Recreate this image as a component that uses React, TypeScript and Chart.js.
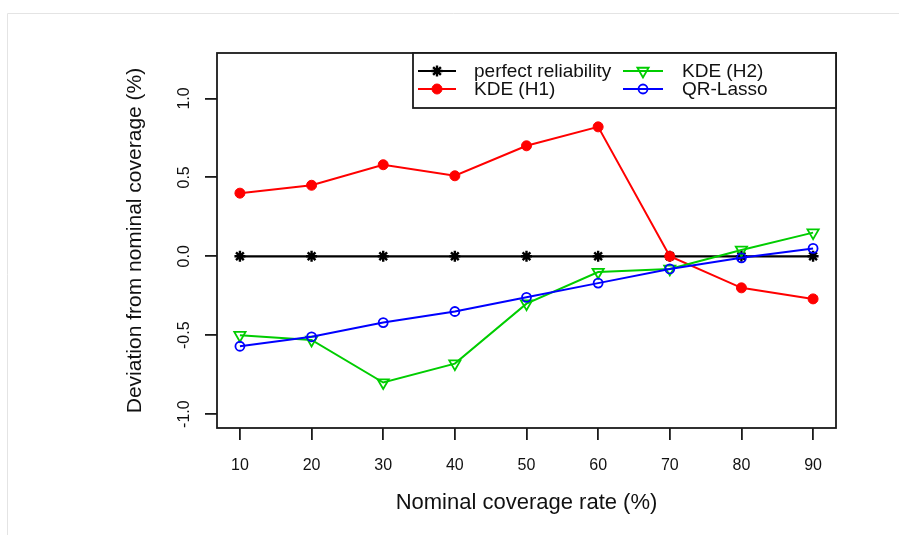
import React, { useEffect, useRef } from "react";
import { Chart, registerables } from "chart.js";
import { drawPoint } from "chart.js/helpers";

Chart.register(...registerables);

const coverage = [10, 20, 30, 40, 50, 60, 70, 80, 90];
const perfectReliability = [0, 0, 0, 0, 0, 0, 0, 0, 0];
const kdeH1 = [0.4, 0.45, 0.58, 0.51, 0.7, 0.82, 0.0, -0.2, -0.27];
const kdeH2 = [-0.5, -0.53, -0.8, -0.68, -0.3, -0.1, -0.08, 0.04, 0.15];
const qrLasso = [-0.57, -0.51, -0.42, -0.35, -0.26, -0.17, -0.08, -0.01, 0.05];

const xTicks = [10, 20, 30, 40, 50, 60, 70, 80, 90];
const yTicks = [-1, -0.5, 0, 0.5, 1];
const yTickLabels = ["-1.0", "-0.5", "0.0", "0.5", "1.0"];

const seriesNames = ["perfect reliability", "KDE (H1)", "KDE (H2)", "QR-Lasso"];
const xTitle = "Nominal coverage rate (%)";
const yTitle = "Deviation from nominal coverage (%)";

const FONT = "'Liberation Sans', Arial, Helvetica, sans-serif";

const toPoints = (vals: number[]) => coverage.map((c, i) => ({ x: c, y: vals[i] }));

const framePlugin = {
  id: "framePlugin",
  beforeDraw(chart: any) {
    const ctx = chart.ctx;
    ctx.save();
    ctx.strokeStyle = "#e4e4e4";
    ctx.lineWidth = 1;
    ctx.beginPath();
    ctx.moveTo(7.5, 535);
    ctx.lineTo(7.5, 13.5);
    ctx.lineTo(899, 13.5);
    ctx.stroke();
    ctx.restore();
  },
  afterDraw(chart: any) {
    const ctx = chart.ctx;
    const a = chart.chartArea;
    ctx.save();
    ctx.strokeStyle = "#1a1a1a";
    ctx.lineWidth = 1.8;
    ctx.strokeRect(a.left, a.top, a.right - a.left, a.bottom - a.top);

    // legend (R style, two columns filled column-wise)
    const lx = 413;
    const ly = a.top;
    const lw = a.right - lx;
    const lh = 55;
    ctx.fillStyle = "#ffffff";
    ctx.fillRect(lx, ly, lw, lh);
    ctx.strokeRect(lx, ly, lw, lh);
    const order = [0, 1, 2, 3];
    const colLine = [
      [418, 456],
      [623, 663],
    ];
    const colText = [474, 682];
    const rowY = [71, 89];
    order.forEach((dsIndex, k) => {
      const col = Math.floor(k / 2);
      const row = k % 2;
      const ds = chart.data.datasets[dsIndex];
      const y = rowY[row];
      ctx.strokeStyle = ds.borderColor;
      ctx.lineWidth = ds.borderWidth;
      ctx.beginPath();
      ctx.moveTo(colLine[col][0], y);
      ctx.lineTo(colLine[col][1], y);
      ctx.stroke();
      ctx.fillStyle = ds.pointBackgroundColor;
      ctx.strokeStyle = ds.borderColor;
      ctx.lineWidth = ds.pointBorderWidth;
      drawPoint(
        ctx,
        {
          pointStyle: ds.pointStyle,
          rotation: ds.pointRotation || 0,
          radius: ds.pointRadius,
          borderWidth: ds.pointBorderWidth,
        },
        (colLine[col][0] + colLine[col][1]) / 2,
        y
      );
      ctx.fillStyle = "#111";
      ctx.font = `19px ${FONT}`;
      ctx.textAlign = "left";
      ctx.textBaseline = "middle";
      ctx.fillText(ds.label, colText[col], y + 1);
    });
    ctx.restore();
  },
};

export default function App() {
  const ref = useRef<HTMLCanvasElement | null>(null);

  useEffect(() => {
    if (!ref.current) return;
    const chart = new Chart(ref.current, {
      type: "line",
      data: {
        datasets: [
          {
            label: seriesNames[0],
            data: toPoints(perfectReliability),
            borderColor: "#000000",
            backgroundColor: "#000000",
            pointBackgroundColor: "#000000",
            borderWidth: 2.2,
            pointStyle: "star",
            pointRadius: 5.5,
            pointBorderWidth: 2.4,
            order: 4,
          },
          {
            label: seriesNames[1],
            data: toPoints(kdeH1),
            borderColor: "#ff0000",
            backgroundColor: "#ff0000",
            pointBackgroundColor: "#ff0000",
            borderWidth: 2,
            pointStyle: "circle",
            pointRadius: 5,
            pointBorderWidth: 1,
            order: 3,
          },
          {
            label: seriesNames[2],
            data: toPoints(kdeH2),
            borderColor: "#00cd00",
            backgroundColor: "rgba(0,0,0,0)",
            pointBackgroundColor: "rgba(0,0,0,0)",
            borderWidth: 2,
            pointStyle: "triangle",
            pointRotation: 180,
            pointRadius: 6.5,
            pointBorderWidth: 1.8,
            order: 2,
          },
          {
            label: seriesNames[3],
            data: toPoints(qrLasso),
            borderColor: "#0000ff",
            backgroundColor: "rgba(0,0,0,0)",
            pointBackgroundColor: "rgba(0,0,0,0)",
            borderWidth: 2,
            pointStyle: "circle",
            pointRadius: 4.5,
            pointBorderWidth: 1.8,
            order: 1,
          },
        ],
      },
      options: {
        responsive: false,
        animation: false,
        layout: { padding: { left: 123, right: 63, top: 53, bottom: 19 } },
        plugins: {
          legend: { display: false },
          tooltip: { enabled: false },
        },
        elements: { line: { tension: 0 } },
        scales: {
          x: {
            type: "linear",
            min: 6.8,
            max: 93.2,
            afterBuildTicks: (s: any) => {
              s.ticks = xTicks.map((v) => ({ value: v }));
            },
            afterFit: (s: any) => {
              s.height = 88;
            },
            grid: {
              display: true,
              drawOnChartArea: false,
              drawTicks: true,
              tickLength: 12,
              color: "#1a1a1a",
              lineWidth: 1.8,
            },
            border: { display: false },
            ticks: {
              autoSkip: false,
              maxRotation: 0,
              minRotation: 0,
              padding: 16,
              color: "#111",
              font: { family: FONT, size: 16 },
              callback: (v: any) => String(v),
            },
            title: {
              display: true,
              text: xTitle,
              color: "#111",
              font: { family: FONT, size: 22 },
              padding: 0,
            },
          },
          y: {
            type: "linear",
            min: -1.088,
            max: 1.288,
            afterBuildTicks: (s: any) => {
              s.ticks = yTicks.map((v) => ({ value: v }));
            },
            afterFit: (s: any) => {
              s.width = 94;
            },
            grid: {
              display: true,
              drawOnChartArea: false,
              drawTicks: true,
              tickLength: 12,
              color: "#1a1a1a",
              lineWidth: 1.8,
            },
            border: { display: false },
            ticks: {
              autoSkip: false,
              minRotation: 90,
              maxRotation: 90,
              crossAlign: "center",
              padding: 7,
              color: "#111",
              font: { family: FONT, size: 16 },
              callback: (v: any) => {
                const i = yTicks.indexOf(Number(v));
                return i >= 0 ? yTickLabels[i] : "";
              },
            },
            title: {
              display: true,
              text: yTitle,
              color: "#111",
              font: { family: FONT, size: 21 },
              padding: 0,
            },
          },
        },
      },
      plugins: [framePlugin],
    } as any);
    return () => chart.destroy();
  }, []);

  return (
    <div style={{ position: "fixed", left: 0, top: 0, width: 899, height: 535, background: "#fff" }}>
      <canvas ref={ref} width={899} height={535} style={{ display: "block" }} />
    </div>
  );
}
